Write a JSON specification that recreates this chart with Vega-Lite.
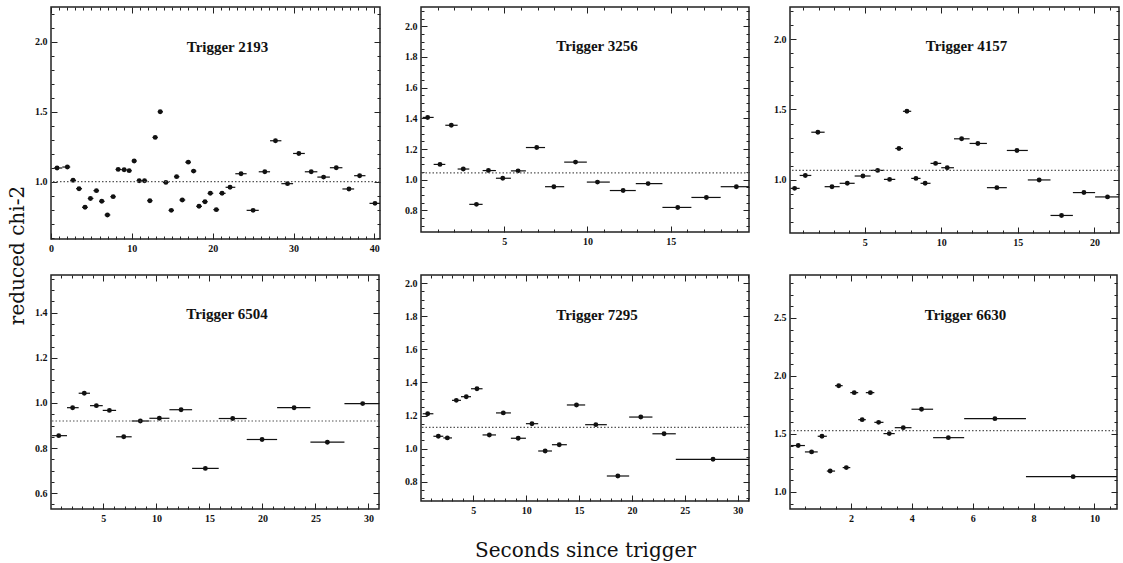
{
  "$schema": "https://vega.github.io/schema/vega-lite/v6.json",
  "padding": {"left": 6, "top": 5, "right": 0, "bottom": 0},
  "background": "white",
  "datasets": {
    "bins": [
      {"trigger": "2193", "t": 0.75, "lo": 0.35, "hi": 1.4, "chi": 1.098},
      {"trigger": "2193", "t": 2.02, "lo": 1.4, "hi": 2.38, "chi": 1.105},
      {"trigger": "2193", "t": 2.73, "lo": 2.38, "hi": 3.1, "chi": 1.01},
      {"trigger": "2193", "t": 3.47, "lo": 3.1, "hi": 3.84, "chi": 0.95},
      {"trigger": "2193", "t": 4.21, "lo": 3.84, "hi": 4.55, "chi": 0.817},
      {"trigger": "2193", "t": 4.88, "lo": 4.55, "hi": 5.25, "chi": 0.88},
      {"trigger": "2193", "t": 5.62, "lo": 5.25, "hi": 5.95, "chi": 0.936},
      {"trigger": "2193", "t": 6.28, "lo": 5.95, "hi": 6.63, "chi": 0.86},
      {"trigger": "2193", "t": 6.98, "lo": 6.63, "hi": 7.34, "chi": 0.762},
      {"trigger": "2193", "t": 7.69, "lo": 7.34, "hi": 8.0, "chi": 0.893},
      {"trigger": "2193", "t": 8.31, "lo": 8.0, "hi": 8.68, "chi": 1.088},
      {"trigger": "2193", "t": 9.05, "lo": 8.68, "hi": 9.36, "chi": 1.086},
      {"trigger": "2193", "t": 9.67, "lo": 9.36, "hi": 9.98, "chi": 1.079},
      {"trigger": "2193", "t": 10.29, "lo": 9.98, "hi": 10.6, "chi": 1.148},
      {"trigger": "2193", "t": 10.91, "lo": 10.6, "hi": 11.24, "chi": 1.007},
      {"trigger": "2193", "t": 11.57, "lo": 11.24, "hi": 11.9, "chi": 1.007},
      {"trigger": "2193", "t": 12.23, "lo": 11.9, "hi": 12.56, "chi": 0.864},
      {"trigger": "2193", "t": 12.89, "lo": 12.56, "hi": 13.2, "chi": 1.317},
      {"trigger": "2193", "t": 13.51, "lo": 13.2, "hi": 13.86, "chi": 1.5},
      {"trigger": "2193", "t": 14.21, "lo": 13.86, "hi": 14.55, "chi": 0.995},
      {"trigger": "2193", "t": 14.88, "lo": 14.55, "hi": 15.21, "chi": 0.795},
      {"trigger": "2193", "t": 15.54, "lo": 15.21, "hi": 15.89, "chi": 1.036},
      {"trigger": "2193", "t": 16.24, "lo": 15.89, "hi": 16.61, "chi": 0.869},
      {"trigger": "2193", "t": 16.98, "lo": 16.61, "hi": 17.31, "chi": 1.14},
      {"trigger": "2193", "t": 17.64, "lo": 17.31, "hi": 17.98, "chi": 1.076},
      {"trigger": "2193", "t": 18.31, "lo": 17.98, "hi": 18.68, "chi": 0.824},
      {"trigger": "2193", "t": 19.05, "lo": 18.68, "hi": 19.38, "chi": 0.857},
      {"trigger": "2193", "t": 19.71, "lo": 19.38, "hi": 20.08, "chi": 0.917},
      {"trigger": "2193", "t": 20.45, "lo": 20.08, "hi": 20.8, "chi": 0.8},
      {"trigger": "2193", "t": 21.16, "lo": 20.8, "hi": 21.6, "chi": 0.917},
      {"trigger": "2193", "t": 22.15, "lo": 21.6, "hi": 22.8, "chi": 0.96},
      {"trigger": "2193", "t": 23.51, "lo": 22.8, "hi": 24.2, "chi": 1.057},
      {"trigger": "2193", "t": 25.0, "lo": 24.2, "hi": 25.7, "chi": 0.795},
      {"trigger": "2193", "t": 26.45, "lo": 25.7, "hi": 27.1, "chi": 1.071},
      {"trigger": "2193", "t": 27.77, "lo": 27.1, "hi": 28.5, "chi": 1.293},
      {"trigger": "2193", "t": 29.26, "lo": 28.5, "hi": 29.95, "chi": 0.986},
      {"trigger": "2193", "t": 30.66, "lo": 29.95, "hi": 31.4, "chi": 1.202},
      {"trigger": "2193", "t": 32.19, "lo": 31.4, "hi": 32.95, "chi": 1.071},
      {"trigger": "2193", "t": 33.72, "lo": 32.95, "hi": 34.5, "chi": 1.033},
      {"trigger": "2193", "t": 35.29, "lo": 34.5, "hi": 36.05, "chi": 1.1},
      {"trigger": "2193", "t": 36.86, "lo": 36.05, "hi": 37.5, "chi": 0.948},
      {"trigger": "2193", "t": 38.18, "lo": 37.5, "hi": 38.9, "chi": 1.043},
      {"trigger": "2193", "t": 40.08, "lo": 39.4, "hi": 40.7, "chi": 0.845},

      {"trigger": "3256", "t": 0.4, "lo": 0.1, "hi": 0.76, "chi": 1.406},
      {"trigger": "3256", "t": 1.14, "lo": 0.76, "hi": 1.46, "chi": 1.1},
      {"trigger": "3256", "t": 1.82, "lo": 1.46, "hi": 2.2, "chi": 1.355},
      {"trigger": "3256", "t": 2.54, "lo": 2.2, "hi": 2.9, "chi": 1.07},
      {"trigger": "3256", "t": 3.33, "lo": 2.9, "hi": 3.7, "chi": 0.84},
      {"trigger": "3256", "t": 4.05, "lo": 3.7, "hi": 4.5, "chi": 1.06},
      {"trigger": "3256", "t": 4.91, "lo": 4.5, "hi": 5.4, "chi": 1.01},
      {"trigger": "3256", "t": 5.83, "lo": 5.4, "hi": 6.3, "chi": 1.058},
      {"trigger": "3256", "t": 6.95, "lo": 6.3, "hi": 7.45, "chi": 1.21},
      {"trigger": "3256", "t": 7.98, "lo": 7.45, "hi": 8.6, "chi": 0.955},
      {"trigger": "3256", "t": 9.28, "lo": 8.6, "hi": 9.96, "chi": 1.115},
      {"trigger": "3256", "t": 10.6, "lo": 9.96, "hi": 11.34, "chi": 0.985},
      {"trigger": "3256", "t": 12.14, "lo": 11.34, "hi": 12.9, "chi": 0.93},
      {"trigger": "3256", "t": 13.64, "lo": 12.9, "hi": 14.5, "chi": 0.975},
      {"trigger": "3256", "t": 15.42, "lo": 14.5, "hi": 16.24, "chi": 0.82},
      {"trigger": "3256", "t": 17.14, "lo": 16.24, "hi": 18.0, "chi": 0.885},
      {"trigger": "3256", "t": 18.94, "lo": 18.0, "hi": 19.7, "chi": 0.955},

      {"trigger": "4157", "t": 0.43, "lo": 0.17, "hi": 0.76, "chi": 0.938},
      {"trigger": "4157", "t": 1.13, "lo": 0.76, "hi": 1.52, "chi": 1.03},
      {"trigger": "4157", "t": 1.95, "lo": 1.52, "hi": 2.39, "chi": 1.338},
      {"trigger": "4157", "t": 2.87, "lo": 2.39, "hi": 3.37, "chi": 0.95},
      {"trigger": "4157", "t": 3.87, "lo": 3.37, "hi": 4.35, "chi": 0.974},
      {"trigger": "4157", "t": 4.89, "lo": 4.35, "hi": 5.39, "chi": 1.026},
      {"trigger": "4157", "t": 5.85, "lo": 5.39, "hi": 6.26, "chi": 1.066},
      {"trigger": "4157", "t": 6.63, "lo": 6.26, "hi": 7.0, "chi": 1.002},
      {"trigger": "4157", "t": 7.24, "lo": 7.0, "hi": 7.5, "chi": 1.222},
      {"trigger": "4157", "t": 7.76, "lo": 7.5, "hi": 8.04, "chi": 1.487},
      {"trigger": "4157", "t": 8.35, "lo": 8.04, "hi": 8.65, "chi": 1.009},
      {"trigger": "4157", "t": 8.95, "lo": 8.65, "hi": 9.3, "chi": 0.974},
      {"trigger": "4157", "t": 9.63, "lo": 9.3, "hi": 10.0, "chi": 1.116},
      {"trigger": "4157", "t": 10.39, "lo": 10.0, "hi": 10.83, "chi": 1.085},
      {"trigger": "4157", "t": 11.33, "lo": 10.83, "hi": 11.85, "chi": 1.291},
      {"trigger": "4157", "t": 12.39, "lo": 11.85, "hi": 12.98, "chi": 1.258},
      {"trigger": "4157", "t": 13.63, "lo": 12.98, "hi": 14.28, "chi": 0.943},
      {"trigger": "4157", "t": 14.94, "lo": 14.28, "hi": 15.65, "chi": 1.208},
      {"trigger": "4157", "t": 16.39, "lo": 15.65, "hi": 17.13, "chi": 0.998},
      {"trigger": "4157", "t": 17.85, "lo": 17.13, "hi": 18.59, "chi": 0.745},
      {"trigger": "4157", "t": 19.31, "lo": 18.59, "hi": 20.04, "chi": 0.908},
      {"trigger": "4157", "t": 20.85, "lo": 20.04, "hi": 21.6, "chi": 0.877},

      {"trigger": "6504", "t": 0.79, "lo": 0.16, "hi": 1.57, "chi": 0.855},
      {"trigger": "6504", "t": 2.1, "lo": 1.57, "hi": 2.67, "chi": 0.979},
      {"trigger": "6504", "t": 3.2, "lo": 2.67, "hi": 3.74, "chi": 1.043},
      {"trigger": "6504", "t": 4.34, "lo": 3.74, "hi": 4.94, "chi": 0.988},
      {"trigger": "6504", "t": 5.57, "lo": 4.94, "hi": 6.2, "chi": 0.967},
      {"trigger": "6504", "t": 6.92, "lo": 6.2, "hi": 7.67, "chi": 0.85},
      {"trigger": "6504", "t": 8.49, "lo": 7.67, "hi": 9.34, "chi": 0.92},
      {"trigger": "6504", "t": 10.28, "lo": 9.34, "hi": 11.23, "chi": 0.932},
      {"trigger": "6504", "t": 12.33, "lo": 11.23, "hi": 13.37, "chi": 0.97},
      {"trigger": "6504", "t": 14.62, "lo": 13.37, "hi": 15.88, "chi": 0.71},
      {"trigger": "6504", "t": 17.2, "lo": 15.88, "hi": 18.52, "chi": 0.931},
      {"trigger": "6504", "t": 19.97, "lo": 18.52, "hi": 21.39, "chi": 0.838},
      {"trigger": "6504", "t": 22.99, "lo": 21.39, "hi": 24.53, "chi": 0.979},
      {"trigger": "6504", "t": 26.13, "lo": 24.53, "hi": 27.74, "chi": 0.826},
      {"trigger": "6504", "t": 29.46, "lo": 27.74, "hi": 31.0, "chi": 0.997},

      {"trigger": "7295", "t": 0.69, "lo": 0.22, "hi": 1.23, "chi": 1.211},
      {"trigger": "7295", "t": 1.7, "lo": 1.23, "hi": 2.17, "chi": 1.075},
      {"trigger": "7295", "t": 2.55, "lo": 2.17, "hi": 2.99, "chi": 1.065},
      {"trigger": "7295", "t": 3.4, "lo": 2.99, "hi": 3.84, "chi": 1.292},
      {"trigger": "7295", "t": 4.34, "lo": 3.84, "hi": 4.79, "chi": 1.314},
      {"trigger": "7295", "t": 5.35, "lo": 4.79, "hi": 5.88, "chi": 1.362},
      {"trigger": "7295", "t": 6.52, "lo": 5.88, "hi": 7.15, "chi": 1.083},
      {"trigger": "7295", "t": 7.84, "lo": 7.15, "hi": 8.56, "chi": 1.216},
      {"trigger": "7295", "t": 9.25, "lo": 8.56, "hi": 9.98, "chi": 1.063},
      {"trigger": "7295", "t": 10.55, "lo": 9.98, "hi": 11.14, "chi": 1.151},
      {"trigger": "7295", "t": 11.8, "lo": 11.14, "hi": 12.44, "chi": 0.986},
      {"trigger": "7295", "t": 13.13, "lo": 12.44, "hi": 13.85, "chi": 1.024},
      {"trigger": "7295", "t": 14.76, "lo": 13.85, "hi": 15.58, "chi": 1.264},
      {"trigger": "7295", "t": 16.59, "lo": 15.58, "hi": 17.63, "chi": 1.145},
      {"trigger": "7295", "t": 18.67, "lo": 17.63, "hi": 19.74, "chi": 0.835},
      {"trigger": "7295", "t": 20.84, "lo": 19.74, "hi": 21.94, "chi": 1.191},
      {"trigger": "7295", "t": 23.04, "lo": 21.94, "hi": 24.15, "chi": 1.09},
      {"trigger": "7295", "t": 27.67, "lo": 24.15, "hi": 31.07, "chi": 0.936},

      {"trigger": "6630", "t": 0.27, "lo": 0.03, "hi": 0.49, "chi": 1.4},
      {"trigger": "6630", "t": 0.71, "lo": 0.49, "hi": 0.91, "chi": 1.345},
      {"trigger": "6630", "t": 1.05, "lo": 0.91, "hi": 1.21, "chi": 1.48},
      {"trigger": "6630", "t": 1.32, "lo": 1.21, "hi": 1.48, "chi": 1.18},
      {"trigger": "6630", "t": 1.6, "lo": 1.48, "hi": 1.73, "chi": 1.916},
      {"trigger": "6630", "t": 1.85, "lo": 1.73, "hi": 1.98, "chi": 1.21},
      {"trigger": "6630", "t": 2.11, "lo": 1.98, "hi": 2.24, "chi": 1.856},
      {"trigger": "6630", "t": 2.37, "lo": 2.24, "hi": 2.49, "chi": 1.623},
      {"trigger": "6630", "t": 2.64, "lo": 2.49, "hi": 2.77, "chi": 1.856},
      {"trigger": "6630", "t": 2.91, "lo": 2.77, "hi": 3.07, "chi": 1.6},
      {"trigger": "6630", "t": 3.26, "lo": 3.07, "hi": 3.44, "chi": 1.503},
      {"trigger": "6630", "t": 3.72, "lo": 3.44, "hi": 3.99, "chi": 1.554},
      {"trigger": "6630", "t": 4.32, "lo": 3.99, "hi": 4.7, "chi": 1.713},
      {"trigger": "6630", "t": 5.2, "lo": 4.7, "hi": 5.72, "chi": 1.468},
      {"trigger": "6630", "t": 6.73, "lo": 5.72, "hi": 7.75, "chi": 1.632},
      {"trigger": "6630", "t": 9.3, "lo": 7.75, "hi": 10.74, "chi": 1.132}
    ],
    "means": [
      {"trigger": "2193", "chi": 1.0},
      {"trigger": "3256", "chi": 1.045},
      {"trigger": "4157", "chi": 1.066},
      {"trigger": "6504", "chi": 0.92},
      {"trigger": "7295", "chi": 1.129},
      {"trigger": "6630", "chi": 1.528}
    ]
  },
  "columns": 3,
  "align": "each",
  "bounds": "flush",
  "spacing": {"row": 36, "column": 41},
  "concat": [
    {
      "width": 329, "height": 232,
      "title": {"text": "Trigger 2193"},
      "layer": [
        {
          "data": {"name": "bins"}, "transform": [{"filter": "datum.trigger === '2193'"}],
          "mark": {"type": "rule", "color": "#111", "strokeWidth": 1.2},
          "encoding": {
            "x": {"field": "lo", "type": "quantitative", "scale": {"domain": [0, 40.7], "nice": false, "zero": false},
              "axis": {"orient": "bottom", "title": null, "values": [0,1,2,3,4,5,6,7,8,9,10,11,12,13,14,15,16,17,18,19,20,21,22,23,24,25,26,27,28,29,30,31,32,33,34,35,36,37,38,39,40],
                "labelExpr": "datum.value % 10 === 0 ? format(datum.value, 'd') : ''",
                "tickSize": {"condition": {"test": "datum.value % 10 === 0", "value": -6}, "value": -3}}},
            "x2": {"field": "hi"},
            "y": {"field": "chi", "type": "quantitative", "scale": {"domain": [0.59, 2.25], "nice": false, "zero": false},
              "axis": {"orient": "left", "title": "reduced chi-2", "titleX": -34, "titleY": 248, "titleAngle": -90, "titleAlign": "center", "titleBaseline": "middle", "titleAnchor": null,
                "values": [0.6,0.7,0.8,0.9,1.0,1.1,1.2,1.3,1.4,1.5,1.6,1.7,1.8,1.9,2.0,2.1,2.2],
                "labelExpr": "abs(datum.value*2-round(datum.value*2)) < 0.001 ? format(datum.value, '.1f') : ''",
                "tickSize": {"condition": {"test": "abs(datum.value*2-round(datum.value*2)) < 0.001", "value": -6}, "value": -3}}}
          }
        },
        {
          "data": {"name": "bins"}, "transform": [{"filter": "datum.trigger === '2193'"}],
          "mark": {"type": "point", "filled": true, "shape": "circle", "size": 24, "color": "#111", "opacity": 1},
          "encoding": {
            "x": {"field": "t", "type": "quantitative", "scale": {"domain": [0, 40.7], "nice": false, "zero": false},
              "axis": {"orient": "top", "title": null, "labels": false, "values": [0,1,2,3,4,5,6,7,8,9,10,11,12,13,14,15,16,17,18,19,20,21,22,23,24,25,26,27,28,29,30,31,32,33,34,35,36,37,38,39,40],
                "tickSize": {"condition": {"test": "datum.value % 10 === 0", "value": -6}, "value": -3}}},
            "y": {"field": "chi", "type": "quantitative", "scale": {"domain": [0.59, 2.25], "nice": false, "zero": false},
              "axis": {"orient": "right", "title": null, "labels": false, "values": [0.6,0.7,0.8,0.9,1.0,1.1,1.2,1.3,1.4,1.5,1.6,1.7,1.8,1.9,2.0,2.1,2.2],
                "tickSize": {"condition": {"test": "abs(datum.value*2-round(datum.value*2)) < 0.001", "value": -6}, "value": -3}}}
          }
        },
        {
          "data": {"name": "means"}, "transform": [{"filter": "datum.trigger === '2193'"}],
          "mark": {"type": "rule", "color": "#555", "strokeDash": [1.5, 2], "strokeWidth": 1.2},
          "encoding": {"y": {"field": "chi", "type": "quantitative", "scale": {"domain": [0.59, 2.25], "nice": false, "zero": false}, "axis": null}}
        }
      ],
      "resolve": {"axis": {"x": "independent", "y": "independent"}}
    },
    {
      "width": 328, "height": 225,
      "title": {"text": "Trigger 3256"},
      "layer": [
        {
          "data": {"name": "bins"}, "transform": [{"filter": "datum.trigger === '3256'"}],
          "mark": {"type": "rule", "color": "#111", "strokeWidth": 1.2},
          "encoding": {
            "x": {"field": "lo", "type": "quantitative", "scale": {"domain": [0, 19.7], "nice": false, "zero": false},
              "axis": {"orient": "bottom", "title": null, "values": [1,2,3,4,5,6,7,8,9,10,11,12,13,14,15,16,17,18,19],
                "labelExpr": "datum.value % 5 === 0 ? format(datum.value, 'd') : ''",
                "tickSize": {"condition": {"test": "datum.value % 5 === 0", "value": -6}, "value": -3}}},
            "x2": {"field": "hi"},
            "y": {"field": "chi", "type": "quantitative", "scale": {"domain": [0.66, 2.125], "nice": false, "zero": false},
              "axis": {"orient": "left", "title": null, "values": [0.7,0.75,0.8,0.85,0.9,0.95,1.0,1.05,1.1,1.15,1.2,1.25,1.3,1.35,1.4,1.45,1.5,1.55,1.6,1.65,1.7,1.75,1.8,1.85,1.9,1.95,2.0,2.05,2.1],
                "labelExpr": "abs(datum.value*5-round(datum.value*5)) < 0.001 ? format(datum.value, '.1f') : ''",
                "tickSize": {"condition": {"test": "abs(datum.value*5-round(datum.value*5)) < 0.001", "value": -6}, "value": -3}}}
          }
        },
        {
          "data": {"name": "bins"}, "transform": [{"filter": "datum.trigger === '3256'"}],
          "mark": {"type": "point", "filled": true, "shape": "circle", "size": 24, "color": "#111", "opacity": 1},
          "encoding": {
            "x": {"field": "t", "type": "quantitative", "scale": {"domain": [0, 19.7], "nice": false, "zero": false},
              "axis": {"orient": "top", "title": null, "labels": false, "values": [1,2,3,4,5,6,7,8,9,10,11,12,13,14,15,16,17,18,19],
                "tickSize": {"condition": {"test": "datum.value % 5 === 0", "value": -6}, "value": -3}}},
            "y": {"field": "chi", "type": "quantitative", "scale": {"domain": [0.66, 2.125], "nice": false, "zero": false},
              "axis": {"orient": "right", "title": null, "labels": false, "values": [0.7,0.75,0.8,0.85,0.9,0.95,1.0,1.05,1.1,1.15,1.2,1.25,1.3,1.35,1.4,1.45,1.5,1.55,1.6,1.65,1.7,1.75,1.8,1.85,1.9,1.95,2.0,2.05,2.1],
                "tickSize": {"condition": {"test": "abs(datum.value*5-round(datum.value*5)) < 0.001", "value": -6}, "value": -3}}}
          }
        },
        {
          "data": {"name": "means"}, "transform": [{"filter": "datum.trigger === '3256'"}],
          "mark": {"type": "rule", "color": "#555", "strokeDash": [1.5, 2], "strokeWidth": 1.2},
          "encoding": {"y": {"field": "chi", "type": "quantitative", "scale": {"domain": [0.66, 2.125], "nice": false, "zero": false}, "axis": null}}
        }
      ],
      "resolve": {"axis": {"x": "independent", "y": "independent"}}
    },
    {
      "width": 329, "height": 226,
      "title": {"text": "Trigger 4157"},
      "layer": [
        {
          "data": {"name": "bins"}, "transform": [{"filter": "datum.trigger === '4157'"}],
          "mark": {"type": "rule", "color": "#111", "strokeWidth": 1.2},
          "encoding": {
            "x": {"field": "lo", "type": "quantitative", "scale": {"domain": [0.13, 21.6], "nice": false, "zero": false},
              "axis": {"orient": "bottom", "title": null, "values": [1,2,3,4,5,6,7,8,9,10,11,12,13,14,15,16,17,18,19,20,21],
                "labelExpr": "datum.value % 5 === 0 ? format(datum.value, 'd') : ''",
                "tickSize": {"condition": {"test": "datum.value % 5 === 0", "value": -6}, "value": -3}}},
            "x2": {"field": "hi"},
            "y": {"field": "chi", "type": "quantitative", "scale": {"domain": [0.62, 2.23], "nice": false, "zero": false},
              "axis": {"orient": "left", "title": null, "values": [0.7,0.8,0.9,1.0,1.1,1.2,1.3,1.4,1.5,1.6,1.7,1.8,1.9,2.0,2.1,2.2],
                "labelExpr": "abs(datum.value*2-round(datum.value*2)) < 0.001 ? format(datum.value, '.1f') : ''",
                "tickSize": {"condition": {"test": "abs(datum.value*2-round(datum.value*2)) < 0.001", "value": -6}, "value": -3}}}
          }
        },
        {
          "data": {"name": "bins"}, "transform": [{"filter": "datum.trigger === '4157'"}],
          "mark": {"type": "point", "filled": true, "shape": "circle", "size": 24, "color": "#111", "opacity": 1},
          "encoding": {
            "x": {"field": "t", "type": "quantitative", "scale": {"domain": [0.13, 21.6], "nice": false, "zero": false},
              "axis": {"orient": "top", "title": null, "labels": false, "values": [1,2,3,4,5,6,7,8,9,10,11,12,13,14,15,16,17,18,19,20,21],
                "tickSize": {"condition": {"test": "datum.value % 5 === 0", "value": -6}, "value": -3}}},
            "y": {"field": "chi", "type": "quantitative", "scale": {"domain": [0.62, 2.23], "nice": false, "zero": false},
              "axis": {"orient": "right", "title": null, "labels": false, "values": [0.7,0.8,0.9,1.0,1.1,1.2,1.3,1.4,1.5,1.6,1.7,1.8,1.9,2.0,2.1,2.2],
                "tickSize": {"condition": {"test": "abs(datum.value*2-round(datum.value*2)) < 0.001", "value": -6}, "value": -3}}}
          }
        },
        {
          "data": {"name": "means"}, "transform": [{"filter": "datum.trigger === '4157'"}],
          "mark": {"type": "rule", "color": "#555", "strokeDash": [1.5, 2], "strokeWidth": 1.2},
          "encoding": {"y": {"field": "chi", "type": "quantitative", "scale": {"domain": [0.62, 2.23], "nice": false, "zero": false}, "axis": null}}
        }
      ],
      "resolve": {"axis": {"x": "independent", "y": "independent"}}
    },
    {
      "width": 328, "height": 234,
      "title": {"text": "Trigger 6504"},
      "layer": [
        {
          "data": {"name": "bins"}, "transform": [{"filter": "datum.trigger === '6504'"}],
          "mark": {"type": "rule", "color": "#111", "strokeWidth": 1.2},
          "encoding": {
            "x": {"field": "lo", "type": "quantitative", "scale": {"domain": [0.06, 31.0], "nice": false, "zero": false},
              "axis": {"orient": "bottom", "title": null, "values": [1,2,3,4,5,6,7,8,9,10,11,12,13,14,15,16,17,18,19,20,21,22,23,24,25,26,27,28,29,30],
                "labelExpr": "datum.value % 5 === 0 ? format(datum.value, 'd') : ''",
                "tickSize": {"condition": {"test": "datum.value % 5 === 0", "value": -6}, "value": -3}}},
            "x2": {"field": "hi"},
            "y": {"field": "chi", "type": "quantitative", "scale": {"domain": [0.53, 1.567], "nice": false, "zero": false},
              "axis": {"orient": "left", "title": null, "values": [0.55,0.6,0.65,0.7,0.75,0.8,0.85,0.9,0.95,1.0,1.05,1.1,1.15,1.2,1.25,1.3,1.35,1.4,1.45,1.5,1.55],
                "labelExpr": "abs(datum.value*5-round(datum.value*5)) < 0.001 ? format(datum.value, '.1f') : ''",
                "tickSize": {"condition": {"test": "abs(datum.value*5-round(datum.value*5)) < 0.001", "value": -6}, "value": -3}}}
          }
        },
        {
          "data": {"name": "bins"}, "transform": [{"filter": "datum.trigger === '6504'"}],
          "mark": {"type": "point", "filled": true, "shape": "circle", "size": 24, "color": "#111", "opacity": 1},
          "encoding": {
            "x": {"field": "t", "type": "quantitative", "scale": {"domain": [0.06, 31.0], "nice": false, "zero": false},
              "axis": {"orient": "top", "title": null, "labels": false, "values": [1,2,3,4,5,6,7,8,9,10,11,12,13,14,15,16,17,18,19,20,21,22,23,24,25,26,27,28,29,30],
                "tickSize": {"condition": {"test": "datum.value % 5 === 0", "value": -6}, "value": -3}}},
            "y": {"field": "chi", "type": "quantitative", "scale": {"domain": [0.53, 1.567], "nice": false, "zero": false},
              "axis": {"orient": "right", "title": null, "labels": false, "values": [0.55,0.6,0.65,0.7,0.75,0.8,0.85,0.9,0.95,1.0,1.05,1.1,1.15,1.2,1.25,1.3,1.35,1.4,1.45,1.5,1.55],
                "tickSize": {"condition": {"test": "abs(datum.value*5-round(datum.value*5)) < 0.001", "value": -6}, "value": -3}}}
          }
        },
        {
          "data": {"name": "means"}, "transform": [{"filter": "datum.trigger === '6504'"}],
          "mark": {"type": "rule", "color": "#555", "strokeDash": [1.5, 2], "strokeWidth": 1.2},
          "encoding": {"y": {"field": "chi", "type": "quantitative", "scale": {"domain": [0.53, 1.567], "nice": false, "zero": false}, "axis": null}}
        }
      ],
      "resolve": {"axis": {"x": "independent", "y": "independent"}}
    },
    {
      "width": 328, "height": 226,
      "title": {"text": "Trigger 7295"},
      "layer": [
        {
          "data": {"name": "bins"}, "transform": [{"filter": "datum.trigger === '7295'"}],
          "mark": {"type": "rule", "color": "#111", "strokeWidth": 1.2},
          "encoding": {
            "x": {"field": "lo", "type": "quantitative", "scale": {"domain": [0.06, 31.07], "nice": false, "zero": false},
              "axis": {"orient": "bottom", "title": "Seconds since trigger", "titlePadding": 22, "values": [1,2,3,4,5,6,7,8,9,10,11,12,13,14,15,16,17,18,19,20,21,22,23,24,25,26,27,28,29,30,31],
                "labelExpr": "datum.value % 5 === 0 ? format(datum.value, 'd') : ''",
                "tickSize": {"condition": {"test": "datum.value % 5 === 0", "value": -6}, "value": -3}}},
            "x2": {"field": "hi"},
            "y": {"field": "chi", "type": "quantitative", "scale": {"domain": [0.684, 2.049], "nice": false, "zero": false},
              "axis": {"orient": "left", "title": null, "values": [0.7,0.75,0.8,0.85,0.9,0.95,1.0,1.05,1.1,1.15,1.2,1.25,1.3,1.35,1.4,1.45,1.5,1.55,1.6,1.65,1.7,1.75,1.8,1.85,1.9,1.95,2.0],
                "labelExpr": "abs(datum.value*5-round(datum.value*5)) < 0.001 ? format(datum.value, '.1f') : ''",
                "tickSize": {"condition": {"test": "abs(datum.value*5-round(datum.value*5)) < 0.001", "value": -6}, "value": -3}}}
          }
        },
        {
          "data": {"name": "bins"}, "transform": [{"filter": "datum.trigger === '7295'"}],
          "mark": {"type": "point", "filled": true, "shape": "circle", "size": 24, "color": "#111", "opacity": 1},
          "encoding": {
            "x": {"field": "t", "type": "quantitative", "scale": {"domain": [0.06, 31.07], "nice": false, "zero": false},
              "axis": {"orient": "top", "title": null, "labels": false, "values": [1,2,3,4,5,6,7,8,9,10,11,12,13,14,15,16,17,18,19,20,21,22,23,24,25,26,27,28,29,30,31],
                "tickSize": {"condition": {"test": "datum.value % 5 === 0", "value": -6}, "value": -3}}},
            "y": {"field": "chi", "type": "quantitative", "scale": {"domain": [0.684, 2.049], "nice": false, "zero": false},
              "axis": {"orient": "right", "title": null, "labels": false, "values": [0.7,0.75,0.8,0.85,0.9,0.95,1.0,1.05,1.1,1.15,1.2,1.25,1.3,1.35,1.4,1.45,1.5,1.55,1.6,1.65,1.7,1.75,1.8,1.85,1.9,1.95,2.0],
                "tickSize": {"condition": {"test": "abs(datum.value*5-round(datum.value*5)) < 0.001", "value": -6}, "value": -3}}}
          }
        },
        {
          "data": {"name": "means"}, "transform": [{"filter": "datum.trigger === '7295'"}],
          "mark": {"type": "rule", "color": "#555", "strokeDash": [1.5, 2], "strokeWidth": 1.2},
          "encoding": {"y": {"field": "chi", "type": "quantitative", "scale": {"domain": [0.684, 2.049], "nice": false, "zero": false}, "axis": null}}
        }
      ],
      "resolve": {"axis": {"x": "independent", "y": "independent"}}
    },
    {
      "width": 327, "height": 234,
      "title": {"text": "Trigger 6630"},
      "layer": [
        {
          "data": {"name": "bins"}, "transform": [{"filter": "datum.trigger === '6630'"}],
          "mark": {"type": "rule", "color": "#111", "strokeWidth": 1.2},
          "encoding": {
            "x": {"field": "lo", "type": "quantitative", "scale": {"domain": [0, 10.74], "nice": false, "zero": false},
              "axis": {"orient": "bottom", "title": null, "values": [0.5,1,1.5,2,2.5,3,3.5,4,4.5,5,5.5,6,6.5,7,7.5,8,8.5,9,9.5,10,10.5],
                "labelExpr": "datum.value % 2 === 0 ? format(datum.value, 'd') : ''",
                "tickSize": {"condition": {"test": "datum.value % 2 === 0", "value": -6}, "value": -3}}},
            "x2": {"field": "hi"},
            "y": {"field": "chi", "type": "quantitative", "scale": {"domain": [0.853, 2.87], "nice": false, "zero": false},
              "axis": {"orient": "left", "title": null, "values": [0.9,1.0,1.1,1.2,1.3,1.4,1.5,1.6,1.7,1.8,1.9,2.0,2.1,2.2,2.3,2.4,2.5,2.6,2.7,2.8],
                "labelExpr": "abs(datum.value*2-round(datum.value*2)) < 0.001 ? format(datum.value, '.1f') : ''",
                "tickSize": {"condition": {"test": "abs(datum.value*2-round(datum.value*2)) < 0.001", "value": -6}, "value": -3}}}
          }
        },
        {
          "data": {"name": "bins"}, "transform": [{"filter": "datum.trigger === '6630'"}],
          "mark": {"type": "point", "filled": true, "shape": "circle", "size": 24, "color": "#111", "opacity": 1},
          "encoding": {
            "x": {"field": "t", "type": "quantitative", "scale": {"domain": [0, 10.74], "nice": false, "zero": false},
              "axis": {"orient": "top", "title": null, "labels": false, "values": [0.5,1,1.5,2,2.5,3,3.5,4,4.5,5,5.5,6,6.5,7,7.5,8,8.5,9,9.5,10,10.5],
                "tickSize": {"condition": {"test": "datum.value % 2 === 0", "value": -6}, "value": -3}}},
            "y": {"field": "chi", "type": "quantitative", "scale": {"domain": [0.853, 2.87], "nice": false, "zero": false},
              "axis": {"orient": "right", "title": null, "labels": false, "values": [0.9,1.0,1.1,1.2,1.3,1.4,1.5,1.6,1.7,1.8,1.9,2.0,2.1,2.2,2.3,2.4,2.5,2.6,2.7,2.8],
                "tickSize": {"condition": {"test": "abs(datum.value*2-round(datum.value*2)) < 0.001", "value": -6}, "value": -3}}}
          }
        },
        {
          "data": {"name": "means"}, "transform": [{"filter": "datum.trigger === '6630'"}],
          "mark": {"type": "rule", "color": "#555", "strokeDash": [1.5, 2], "strokeWidth": 1.2},
          "encoding": {"y": {"field": "chi", "type": "quantitative", "scale": {"domain": [0.853, 2.87], "nice": false, "zero": false}, "axis": null}}
        }
      ],
      "resolve": {"axis": {"x": "independent", "y": "independent"}}
    }
  ],
  "config": {
    "view": {"stroke": "#222", "strokeWidth": 1.5},
    "axis": {
      "domain": false, "grid": false,
      "tickColor": "#222", "tickWidth": 1,
      "labelFont": "Liberation Serif", "labelFontWeight": "bold", "labelFontSize": 10, "labelColor": "#111",
      "labelPadding": 10, "labelFlush": false, "labelOverlap": false, "labelBound": false,
      "titleFont": "DejaVu Serif", "titleFontWeight": "normal", "titleFontSize": 20, "titleColor": "#111"
    },
    "title": {"font": "Liberation Serif", "fontWeight": "bold", "fontSize": 15, "color": "#111", "anchor": "middle", "frame": "group", "baseline": "top", "offset": -48, "dx": 12}
  }
}
